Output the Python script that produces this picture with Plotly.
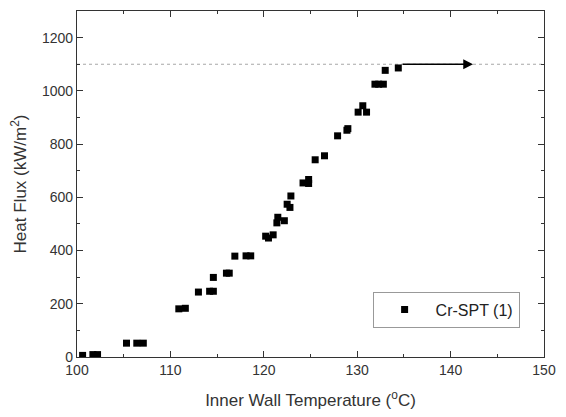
import plotly.graph_objects as go

temperature = [100.6, 101.7, 102.2, 105.3, 106.4, 107.1, 110.9, 111.6, 113.0, 114.2,
               114.6, 114.6, 116.0, 116.3, 116.9, 118.1, 118.6, 120.2, 120.5, 121.0,
               121.4, 121.5, 122.2, 122.5, 122.8, 122.9, 124.2, 124.8, 124.8, 125.5,
               126.5, 127.9, 128.9, 129.0, 130.1, 130.6, 131.0, 131.9, 132.3, 132.8,
               133.0, 134.4]
heat_flux = [6, 9, 9, 52, 52, 52, 181, 183, 244, 247,
             247, 299, 315, 315, 379, 380, 380, 454, 447, 459,
             504, 525, 512, 574, 562, 605, 654, 667, 652, 741,
             756, 831, 852, 858, 920, 944, 920, 1025, 1025, 1025,
             1077, 1086]
series_name = "Cr-SPT (1)"
chf_level = 1100
arrow_start = 134.7
arrow_end = 142.4

font = "Liberation Sans, Arial, sans-serif"

fig = go.Figure()
fig.add_trace(go.Scatter(
    x=temperature, y=heat_flux, mode="markers", name=series_name,
    marker=dict(symbol="square", size=7, color="black"),
))

fig.add_shape(type="line", xref="x", yref="y", x0=100, x1=150, y0=chf_level, y1=chf_level,
              line=dict(color="#a8a8a8", width=1.2, dash="dot"), layer="below")
fig.add_annotation(x=arrow_end, y=chf_level, ax=arrow_start, ay=chf_level,
                   xref="x", yref="y", axref="x", ayref="y", text="",
                   showarrow=True, arrowhead=2, arrowsize=1.4, arrowwidth=1.4,
                   arrowcolor="black")

axis_common = dict(showline=True, linecolor="#333333", linewidth=1.2, mirror="ticks",
                   ticks="inside", ticklen=6, tickwidth=1.2, tickcolor="#333333",
                   showgrid=False, zeroline=False,
                   tickfont=dict(family=font, size=14, color="#333333"))

fig.update_xaxes(range=[100, 150], dtick=10, tick0=100,
                 minor=dict(dtick=5, ticks="inside", ticklen=3, tickwidth=1.2, tickcolor="#333333"),
                 title=dict(text="Inner Wall Temperature (<sup>o</sup>C)",
                            font=dict(family=font, size=17, color="#333333"), standoff=17),
                 **axis_common)
fig.update_yaxes(range=[0, 1300], dtick=200, tick0=0,
                 minor=dict(dtick=100, ticks="inside", ticklen=3, tickwidth=1.2, tickcolor="#333333"),
                 title=dict(text="Heat Flux (kW/m<sup>2</sup>)",
                            font=dict(family=font, size=17, color="#333333"), standoff=10),
                 **axis_common)

fig.update_layout(
    width=566, height=417,
    margin=dict(l=77, r=12, t=10, b=56),
    plot_bgcolor="white", paper_bgcolor="white",
    showlegend=True,
    legend=dict(x=0.633, y=0.137, xanchor="left", yanchor="middle",
                bordercolor="#999999", borderwidth=1, bgcolor="white",
                font=dict(family=font, size=16, color="#222222"),
                itemwidth=52),
)

# remove the default page margin so the figure fills the window exactly
fig.write_html("out.html", config={"displayModeBar": False},
               post_script="document.body.style.margin='0';document.body.style.overflow='hidden';")
